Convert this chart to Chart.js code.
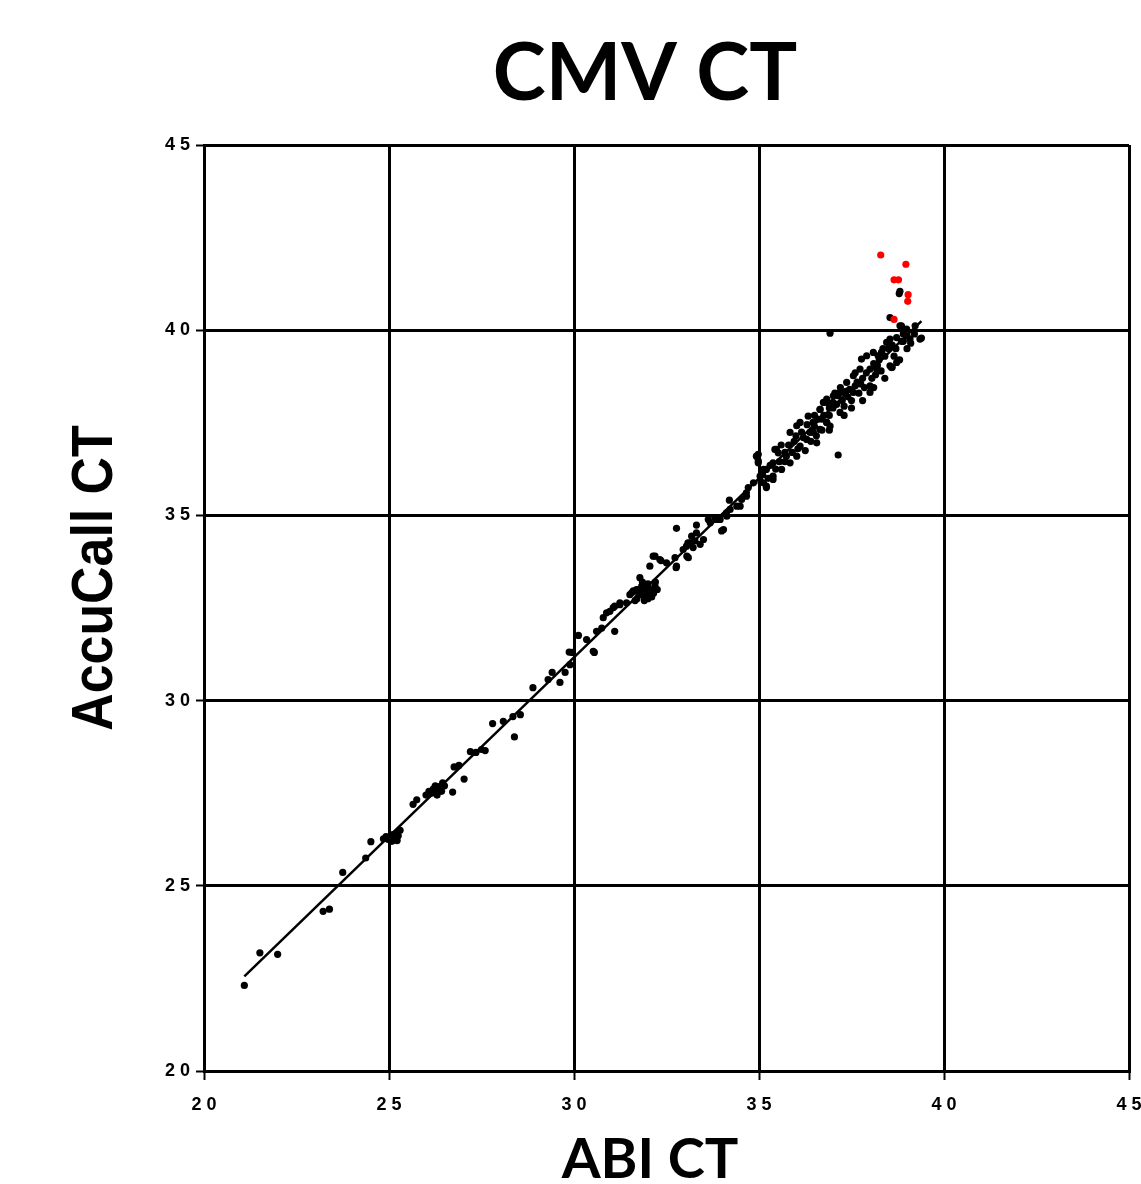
<!DOCTYPE html>
<html>
<head>
<meta charset="utf-8">
<script src="https://cdn.jsdelivr.net/npm/chart.js@4"></script>
<style>
  html, body { margin: 0; padding: 0; background: #fff; }
  canvas { display: block; }
</style>
</head>
<body>
<canvas id="chart" width="1141" height="1184"></canvas>
<script>
// values
const chartTitle = 'CMV CT';
const xTitle = 'ABI CT';
const yTitle = 'AccuCall CT';
const tickValues = [20, 25, 30, 35, 40, 45];

const abiCt = [
  21.09, 21.51, 21.99, 23.22, 23.39, 23.75, 24.37, 24.51, 24.85, 24.92,
  24.98, 25.05, 25.10, 25.15, 25.20, 25.25, 25.30, 25.22, 25.08, 25.65,
  25.75, 26.00, 26.08, 26.15, 26.20, 26.28, 26.35, 26.42, 26.30, 26.50,
  26.45, 26.25, 26.72, 26.76, 26.89, 27.03, 27.20, 27.35, 27.50, 27.60,
  27.80, 28.09, 28.35, 28.55, 28.39, 28.89, 29.30, 29.41, 29.62, 29.76,
  29.89, 29.95, 29.87, 30.12, 30.34, 30.52, 30.55, 30.61, 30.75, 30.79,
  30.97, 31.10, 31.24, 31.10, 31.42, 31.56, 31.69, 31.83, 31.78, 31.96,
  32.10, 32.19, 32.05, 32.19, 32.32, 32.50, 32.77, 32.73, 32.95, 33.08,
  33.27, 33.41, 33.05, 32.77, 33.31, 33.18, 33.31, 33.50, 33.63, 33.81,
  33.95, 34.04, 34.13, 34.22, 34.20, 34.40, 34.53, 34.66, 34.71, 34.85,
  35.03, 35.12, 35.20, 34.98, 34.93, 35.20, 35.38, 35.47, 35.38,
  32.14, 32.35, 32.76, 31.60, 31.51, 31.87, 31.24, 31.06, 30.88, 33.04,
  33.14, 33.09, 33.22, 33.68, 33.86, 33.99, 34.12, 34.49, 34.66,
  31.70, 31.75, 31.90, 32.00, 32.05, 31.95, 32.15, 31.80, 31.65, 32.20,
  31.85, 32.00, 31.90, 32.10, 31.75, 32.25, 32.00,
  34.98, 34.98, 35.12, 35.43, 35.52, 35.74, 35.84, 36.02, 36.11, 36.33,
  36.46, 36.65, 36.83, 37.00, 37.14, 37.32, 35.20, 35.38, 35.61, 35.84,
  36.02, 36.11, 36.29, 36.47, 36.65, 36.83, 37.14, 36.38, 36.56, 36.92,
  36.92, 36.65, 36.74, 36.83, 37.01, 37.19, 37.37, 37.55, 37.73, 37.77,
  37.91, 38.09, 38.22, 38.31, 38.45, 38.54, 38.72, 38.81, 38.99, 39.22,
  39.08, 39.35, 38.54, 38.58, 38.72, 38.18, 38.00, 38.00, 37.55, 37.19,
  36.83, 38.79, 38.81, 38.54, 38.85, 39.39, 39.00, 38.90, 39.10,
  36.70, 36.90, 37.00, 37.10, 37.25, 37.30, 37.40, 37.45, 37.50, 37.60,
  37.65, 37.70, 37.80, 37.85, 37.90, 38.00, 38.05, 38.10, 38.15, 38.25,
  38.30, 38.40, 38.35, 38.50, 38.60, 38.65, 38.70, 38.85, 38.90,
  35.60, 35.70, 35.90, 35.95, 36.05, 36.20, 36.25, 36.40, 36.50, 36.55,
  36.60, 36.70, 36.75, 36.90, 35.55, 35.80, 36.15,
  35.05, 35.10, 35.25, 35.30, 35.45,
  37.30, 37.50, 37.80, 38.10, 38.40, 38.60, 38.80, 39.00, 39.20, 36.90,
  37.20, 37.60, 36.50, 36.00, 35.70, 36.30, 37.05, 37.35, 37.75, 38.20
];

const accuCallCt = [
  22.31, 23.19, 23.15, 24.31, 24.37, 25.36, 25.75, 26.19, 26.27, 26.33,
  26.25, 26.30, 26.38, 26.28, 26.42, 26.35, 26.50, 26.22, 26.20, 27.20,
  27.32, 27.45, 27.55, 27.50, 27.62, 27.58, 27.68, 27.55, 27.45, 27.70,
  27.78, 27.70, 27.53, 28.21, 28.25, 27.88, 28.62, 28.60, 28.68, 28.65,
  29.38, 29.44, 29.57, 29.62, 29.02, 30.35, 30.57, 30.76, 30.49, 30.76,
  30.97, 31.30, 31.31, 31.76, 31.65, 31.33, 31.30, 31.87, 31.96, 32.24,
  32.41, 32.55, 32.59, 31.87, 32.64, 32.91, 33.00, 33.09, 33.32, 32.82,
  33.00, 33.09, 33.63, 33.90, 33.81, 33.72, 33.63, 33.86, 34.08, 34.26,
  34.31, 34.22, 33.90, 34.65, 34.74, 34.44, 34.53, 34.35, 34.89, 34.94,
  34.89, 34.62, 34.98, 35.16, 35.41, 35.25, 35.43, 35.52, 35.75, 35.88,
  36.06, 35.88, 35.79, 36.42, 36.60, 36.24, 36.42, 36.78, 36.06,
  33.90, 33.78, 33.59, 32.96, 32.86, 32.91, 32.64, 32.51, 32.37, 34.17,
  34.26, 33.86, 34.13, 34.80, 34.89, 34.58, 35.07, 35.25, 35.61,
  32.75, 32.85, 32.80, 32.95, 32.85, 33.05, 32.90, 32.95, 32.70, 33.20,
  33.20, 33.15, 32.70, 32.80, 33.00, 33.00, 32.75,
  36.65, 36.47, 36.24, 36.78, 36.69, 36.60, 37.24, 37.42, 37.51, 37.68,
  37.51, 37.86, 38.05, 38.05, 38.23, 38.31, 35.75, 35.97, 36.24, 36.42,
  36.60, 36.87, 37.05, 37.24, 37.32, 37.51, 36.63, 37.24, 36.96, 37.41,
  39.92, 37.86, 38.05, 38.14, 38.23, 38.32, 38.59, 38.77, 38.95, 39.22,
  39.31, 39.40, 39.31, 39.40, 39.67, 39.76, 39.80, 40.12, 40.03, 40.12,
  39.76, 39.76, 39.04, 38.99, 39.13, 38.95, 38.50, 38.32, 38.32, 37.78,
  37.51, 40.99, 41.05, 40.34, 40.12, 39.79, 39.85, 39.70, 39.65,
  37.60, 37.70, 37.90, 38.00, 38.10, 37.95, 38.20, 38.40, 38.10, 38.50,
  38.60, 38.30, 38.70, 38.45, 38.85, 38.95, 38.70, 39.10, 38.80, 39.20,
  38.90, 39.30, 39.50, 39.50, 39.60, 39.30, 39.50, 39.70, 39.90,
  36.90, 36.45, 36.70, 37.00, 36.80, 37.10, 36.75, 37.00, 37.40, 37.15,
  37.60, 37.30, 37.70, 37.30, 36.45, 36.90, 37.25,
  35.90, 36.10, 36.00, 36.35, 36.25,
  37.70, 37.90, 38.10, 38.45, 38.70, 39.00, 39.20, 39.50, 39.90, 37.90,
  38.45, 38.85, 37.70, 37.15, 36.70, 37.45, 38.30, 38.35, 38.55, 39.05
];

// points flagged red in the reference
const flaggedAbiCt = [38.29, 38.97, 38.65, 38.77, 39.03, 39.02, 38.65];
const flaggedAccuCallCt = [42.03, 41.78, 41.36, 41.36, 40.96, 40.78, 40.29];

const points = abiCt.map((x, i) => ({ x: x, y: accuCallCt[i] }));
const flagged = flaggedAbiCt.map((x, i) => ({ x: x, y: flaggedAccuCallCt[i] }));

// least squares fit through the black points
function fitLine(xs, ys) {
  const n = xs.length;
  let sx = 0, sy = 0, sxx = 0, sxy = 0;
  for (let i = 0; i < n; i++) {
    sx += xs[i]; sy += ys[i];
    sxx += xs[i] * xs[i]; sxy += xs[i] * ys[i];
  }
  const slope = (n * sxy - sx * sy) / (n * sxx - sx * sx);
  const icept = (sy - slope * sx) / n;
  const x0 = Math.min(...xs), x1 = Math.max(...xs);
  return [{ x: x0, y: icept + slope * x0 }, { x: x1, y: icept + slope * x1 }];
}
const fit = fitLine(abiCt, accuCallCt);

const tickFont = { family: 'Liberation Sans', weight: 'bold', size: 18 };
const spaced = v => String(v).split('').join(' ');

const titles = {
  id: 'titles',
  afterDraw(chart) {
    const ctx = chart.ctx;
    ctx.save();
    ctx.fillStyle = '#000';
    ctx.textAlign = 'center';
    ctx.textBaseline = 'alphabetic';
    ctx.font = 'bold 80px Lato';
    ctx.fillText(chartTitle, 645, 100);
    ctx.font = 'bold 56px Lato';
    ctx.fillText(xTitle, 650, 1178);
    ctx.translate(112, 578);
    ctx.rotate(-Math.PI / 2);
    ctx.scale(0.91, 1);
    ctx.font = 'bold 57px "Liberation Sans"';
    ctx.fillText(yTitle, 0, 0);
    ctx.restore();
  }
};

new Chart(document.getElementById('chart'), {
  type: 'scatter',
  data: {
    datasets: [
      {
        type: 'line',
        data: fit,
        borderColor: '#000',
        borderWidth: 2.5,
        pointRadius: 0,
        fill: false
      },
      {
        data: flagged,
        backgroundColor: '#ff0000',
        pointRadius: 3.6,
        borderWidth: 0
      },
      {
        data: points,
        backgroundColor: '#000',
        pointRadius: 3.6,
        borderWidth: 0
      }
    ]
  },
  options: {
    responsive: false,
    animation: false,
    layout: { padding: { top: 145, right: 12, left: 0, bottom: 0 } },
    plugins: {
      legend: { display: false },
      tooltip: { enabled: false },
      title: { display: false }
    },
    scales: {
      x: {
        type: 'linear',
        min: 20,
        max: 45,
        afterBuildTicks: s => { s.ticks = tickValues.map(v => ({ value: v })); },
        afterFit: s => { s.height = 113; s.paddingLeft = 0; s.paddingRight = 0; },
        ticks: { callback: spaced, font: tickFont, color: '#000', padding: 14, maxRotation: 0, autoSkip: false },
        grid: { color: '#000', lineWidth: 3, tickLength: 9, tickWidth: 2, tickColor: '#000' },
        border: { color: '#000', width: 3 }
      },
      y: {
        type: 'linear',
        min: 20,
        max: 45,
        afterBuildTicks: s => { s.ticks = tickValues.map(v => ({ value: v })); },
        afterFit: s => { s.width = 204; },
        ticks: { callback: spaced, font: tickFont, color: '#000', padding: 6, autoSkip: false },
        grid: { color: '#000', lineWidth: 3, tickLength: 8, tickWidth: 2, tickColor: '#000' },
        border: { color: '#000', width: 3 }
      }
    }
  },
  plugins: [titles]
});
</script>
</body>
</html>
